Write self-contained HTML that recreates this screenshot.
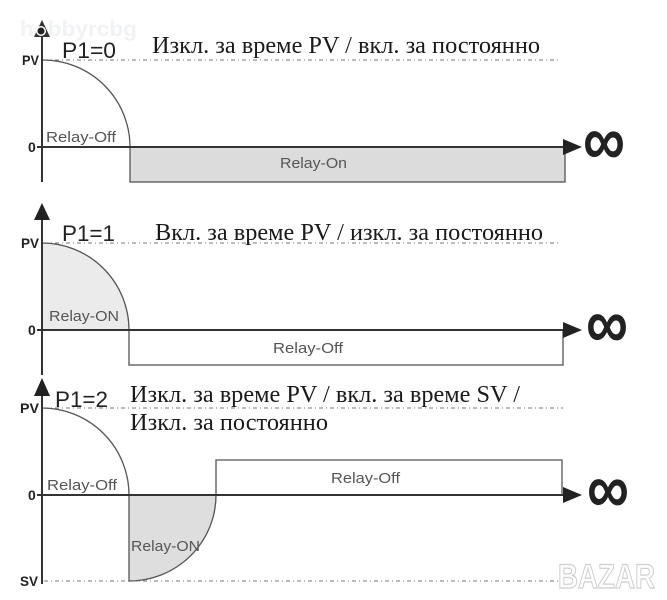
<!DOCTYPE html>
<html><head><meta charset="utf-8"><style>
html,body{margin:0;padding:0;background:#fff;}
svg{display:block;}
.t{font-family:"Liberation Serif",serif;fill:#1a1a1a;}
.s{font-family:"Liberation Sans",sans-serif;}
.lab{font-family:"Liberation Sans",sans-serif;fill:#555;font-size:15px;}
.ax{font-family:"Liberation Sans",sans-serif;fill:#222;font-size:14px;font-weight:bold;}
.p{font-family:"Liberation Sans",sans-serif;fill:#222;font-size:22px;}
</style></head><body>
<svg width="667" height="600" viewBox="0 0 667 600" xmlns="http://www.w3.org/2000/svg">
<rect width="667" height="600" fill="#fff"/>
<!-- watermark -->
<text x="20" y="36" class="s" font-size="21" font-weight="bold" fill="#f0f2f4" textLength="117" lengthAdjust="spacingAndGlyphs">hobbyrcbg</text>

<!-- ===== Panel 1 ===== -->
<rect x="130" y="147" width="435" height="35" fill="#dcdcdc" stroke="#555" stroke-width="1.3"/>
<line x1="44" y1="60" x2="560" y2="60" stroke="#777" stroke-width="1" stroke-dasharray="4,3,1,3"/>
<path d="M43,60 A87,87 0 0 1 130,147" fill="none" stroke="#555" stroke-width="1.3"/>
<line x1="42" y1="34" x2="42" y2="182" stroke="#333" stroke-width="2"/>
<polygon points="42,20 34,37 50,37" fill="#333"/>
<circle cx="41" cy="31" r="5" fill="#fff"/>
<circle cx="41" cy="31" r="3.5" fill="#222"/>
<line x1="37" y1="147" x2="566" y2="147" stroke="#333" stroke-width="2"/>
<polygon points="563,139 582,147 563,155" fill="#222"/>
<text x="583" y="165" class="s" font-size="72" font-weight="bold" fill="#222" textLength="42" lengthAdjust="spacingAndGlyphs">∞</text>
<text x="22" y="65" class="ax" textLength="17" lengthAdjust="spacingAndGlyphs">PV</text>
<text x="28" y="152" class="ax">0</text>
<text x="62" y="58" class="p" textLength="54" lengthAdjust="spacingAndGlyphs">P1=0</text>
<text x="152" y="53" class="t" font-size="24" textLength="388" lengthAdjust="spacingAndGlyphs">Изкл. за време PV / вкл. за постоянно</text>
<text x="46" y="142" class="lab" textLength="70" lengthAdjust="spacingAndGlyphs">Relay-Off</text>
<text x="280" y="168" class="lab" textLength="67" lengthAdjust="spacingAndGlyphs">Relay-On</text>

<!-- ===== Panel 2 ===== -->
<path d="M42,243 A87,87 0 0 1 129,330 L42,330 Z" fill="#ebebeb"/>
<rect x="129" y="330" width="434" height="35" fill="#fff" stroke="#555" stroke-width="1.3"/>
<line x1="44" y1="243" x2="560" y2="243" stroke="#777" stroke-width="1" stroke-dasharray="4,3,1,3"/>
<path d="M42,243 A87,87 0 0 1 129,330" fill="none" stroke="#555" stroke-width="1.3"/>
<line x1="42" y1="215" x2="42" y2="375" stroke="#333" stroke-width="2"/>
<polygon points="42,203 34,220 50,220" fill="#222"/>
<line x1="37" y1="330" x2="566" y2="330" stroke="#333" stroke-width="2"/>
<polygon points="563,322 582,330 563,338" fill="#222"/>
<text x="586" y="348" class="s" font-size="72" font-weight="bold" fill="#222" textLength="42" lengthAdjust="spacingAndGlyphs">∞</text>
<text x="21" y="248" class="ax" textLength="18" lengthAdjust="spacingAndGlyphs">PV</text>
<text x="28" y="335" class="ax">0</text>
<text x="62" y="241" class="p" textLength="53" lengthAdjust="spacingAndGlyphs">P1=1</text>
<text x="155" y="240" class="t" font-size="24" textLength="388" lengthAdjust="spacingAndGlyphs">Вкл. за време PV / изкл. за постоянно</text>
<text x="49" y="321" class="lab" textLength="70" lengthAdjust="spacingAndGlyphs">Relay-ON</text>
<text x="273" y="353" class="lab" textLength="70" lengthAdjust="spacingAndGlyphs">Relay-Off</text>

<!-- ===== Panel 3 ===== -->
<path d="M129,495 L129,581 A87,86 0 0 0 216,495 Z" fill="#dedede"/>
<path d="M129,495 L129,581 A87,86 0 0 0 216,495" fill="none" stroke="#555" stroke-width="1.3"/>
<path d="M216,495 L216,460 L562,460 L562,495" fill="#fff" stroke="#555" stroke-width="1.3"/>
<line x1="44" y1="408" x2="563" y2="408" stroke="#777" stroke-width="1" stroke-dasharray="4,3,1,3"/>
<line x1="44" y1="581" x2="563" y2="581" stroke="#777" stroke-width="1" stroke-dasharray="4,3,1,3"/>
<path d="M42,408 A87,87 0 0 1 129,495" fill="none" stroke="#555" stroke-width="1.3"/>
<line x1="42" y1="390" x2="42" y2="584" stroke="#333" stroke-width="2"/>
<polygon points="42,378 34,396 50,396" fill="#222"/>
<line x1="37" y1="495" x2="566" y2="495" stroke="#333" stroke-width="2"/>
<polygon points="563,487 582,495 563,503" fill="#222"/>
<text x="587" y="513" class="s" font-size="72" font-weight="bold" fill="#222" textLength="42" lengthAdjust="spacingAndGlyphs">∞</text>
<text x="20" y="413" class="ax" textLength="19" lengthAdjust="spacingAndGlyphs">PV</text>
<text x="28" y="500" class="ax">0</text>
<text x="20" y="586" class="ax" textLength="18" lengthAdjust="spacingAndGlyphs">SV</text>
<text x="55" y="407" class="p" textLength="53" lengthAdjust="spacingAndGlyphs">P1=2</text>
<text x="130" y="402" class="t" font-size="24" textLength="390" lengthAdjust="spacingAndGlyphs">Изкл. за време PV / вкл. за време SV /</text>
<text x="130" y="430" class="t" font-size="24" textLength="198" lengthAdjust="spacingAndGlyphs">Изкл. за постоянно</text>
<text x="47" y="490" class="lab" textLength="70" lengthAdjust="spacingAndGlyphs">Relay-Off</text>
<text x="131" y="551" class="lab" textLength="69" lengthAdjust="spacingAndGlyphs">Relay-ON</text>
<text x="331" y="483" class="lab" textLength="69" lengthAdjust="spacingAndGlyphs">Relay-Off</text>

<!-- BAZAR watermark -->
<text x="558" y="588" class="s" font-size="34" font-weight="bold" fill="#fff" stroke="#cfcfcf" stroke-width="1.2" textLength="97" lengthAdjust="spacingAndGlyphs">BAZAR</text>
</svg>
</body></html>
